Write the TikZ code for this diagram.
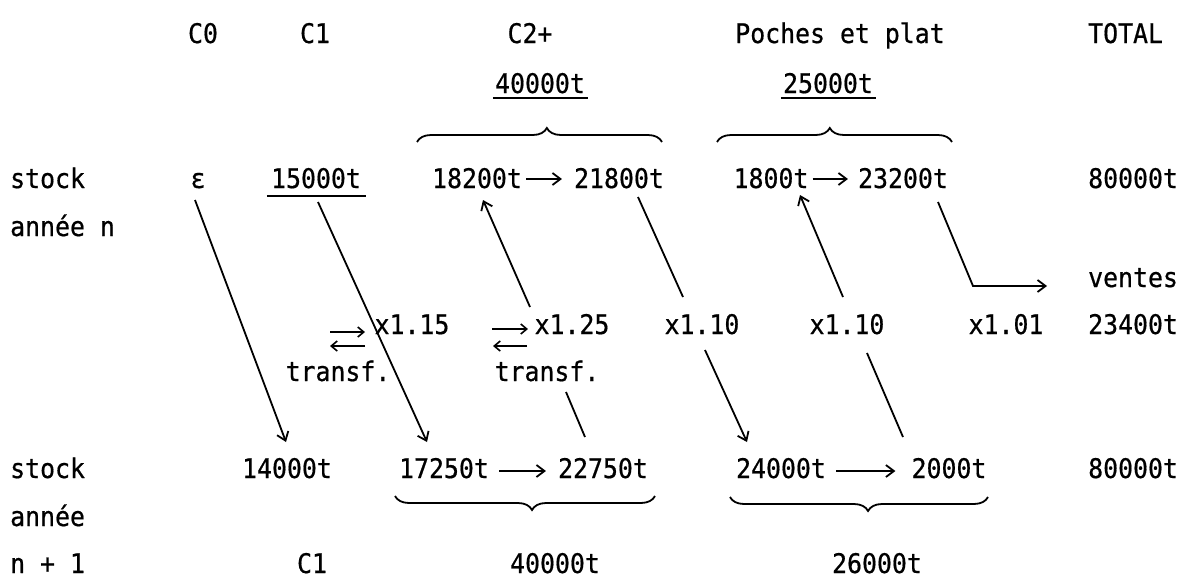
\documentclass[tikz,border=0pt]{standalone}
\usepackage{fontspec}
\newfontfamily\tw[FakeStretch=0.92,FakeBold=0.6]{DejaVu Sans Mono}
\usetikzlibrary{arrows.meta,decorations.pathreplacing,calc}
\begin{document}
\begin{tikzpicture}[x=1pt,y=-1pt,
  lbl/.style={font=\tw\fontsize{27}{32}\selectfont, inner sep=0pt, anchor=base},
  lblw/.style={lbl, anchor=base west},
  conn/.style={line width=1.8pt},
  arr/.style={conn, -{Straight Barb[length=8pt,width=12pt,line width=1.8pt]}},
  sarr/.style={conn, line width=1.6pt, -{Straight Barb[length=6pt,width=10pt,line width=1.6pt]}},
  brc/.style={decorate, line width=1.8pt},
  uline/.style={line width=1.8pt}]
\useasboundingbox[fill=white] (0,0) rectangle (1187,581);

% row labels
\node[lblw] (stock1) at (10,188) {stock};
\node[lblw] (annee1) at (10,236) {année n};
\node[lblw] (stock2) at (10,478) {stock};
\node[lblw] (annee2) at (10,526) {année};
\node[lblw] (np1) at (10,573) {n + 1};

% header
\node[lbl] (hC0) at (203,43) {C0};
\node[lbl] (hC1) at (315,43) {C1};
\node[lbl] (hC2) at (530,43) {C2+};
\node[lbl] (hPP) at (840,43) {Poches et plat};
\node[lblw] (hTot) at (1088,43) {TOTAL};
\node[lbl] (t40) at (540,93) {40000t};
\node[lbl] (t25) at (828,93) {25000t};

% row n
\node[lbl] (eps) at (198,188) {ε};
\node[lbl] (n15000) at (316,188) {15000t};
\node[lbl] (n18200) at (477,188) {18200t};
\node[lbl] (n21800) at (619,188) {21800t};
\node[lbl] (n1800) at (771,188) {1800t};
\node[lbl] (n23200) at (903,188) {23200t};
\node[lblw] (tot1) at (1088,188) {80000t};

% middle
\node[lblw] (ventes) at (1088,287) {ventes};
\node[lbl] (x115) at (412,334) {x1.15};
\node[lbl] (x125) at (572,334) {x1.25};
\node[lbl] (x110a) at (702,334) {x1.10};
\node[lbl] (x110b) at (847,334) {x1.10};
\node[lbl] (x101) at (1006,334) {x1.01};
\node[lblw] (v23400) at (1088,334) {23400t};
\node[lbl] (tf1) at (338,381) {transf.};
\node[lbl] (tf2) at (547,381) {transf.};

% row n+1
\node[lbl] (n14000) at (287,478) {14000t};
\node[lbl] (n17250) at (444,478) {17250t};
\node[lbl] (n22750) at (603,478) {22750t};
\node[lbl] (n24000) at (781,478) {24000t};
\node[lbl] (n2000) at (949,478) {2000t};
\node[lblw] (tot2) at (1088,478) {80000t};
\node[lbl] (bC1) at (312,573) {C1};
\node[lbl] (b40) at (555,573) {40000t};
\node[lbl] (b26) at (877,573) {26000t};

% underlines
\draw[uline] ($(t40.base west)+(-2,5)$) -- ($(t40.base east)+(3,5)$);
\draw[uline] ($(t25.base west)+(-2,5)$) -- ($(t25.base east)+(3,5)$);
\draw[uline] ($(n15000.base west)+(-4,8)$) -- ($(n15000.base east)+(5,8)$);

% braces
\draw[brc, decoration={brace,amplitude=14pt,aspect=0.53}] (417,142) -- (662,142);
\draw[brc, decoration={brace,amplitude=14pt,aspect=0.48}] (717,142) -- (952,142);
\draw[brc, decoration={brace,mirror,amplitude=14pt,aspect=0.527}] (395,496) -- (655,496);
\draw[brc, decoration={brace,mirror,amplitude=14pt,aspect=0.535}] (730,497) -- (988,497);

% arrows within rows
\draw[arr] ($(n18200.base east)+(4,-9)$) -- ($(n21800.base west)+(-12,-9)$);
\draw[arr] ($(n1800.base east)+(4,-9)$) -- ($(n23200.base west)+(-10,-9)$);
\draw[arr] ($(n17250.base east)+(10,-7)$) -- ($(n22750.base west)+(-12,-7)$);
\draw[arr] ($(n24000.base east)+(10,-7)$) -- ($(n2000.base west)+(-16,-7)$);

% transfer arrows
\draw[sarr] ($(tf1.base)+(-8,-49)$) -- ($(tf1.base)+(27,-49)$);
\draw[sarr] ($(tf1.base)+(27,-35)$) -- ($(tf1.base)+(-8,-35)$);
\draw[sarr] ($(tf2.base)+(-55,-52)$) -- ($(tf2.base)+(-19,-52)$);
\draw[sarr] ($(tf2.base)+(-20,-35)$) -- ($(tf2.base)+(-54,-35)$);

% diagonal connectors
\draw[arr] ($(eps.base)+(-3,12)$) -- ($(n14000.base)+(-1,-36)$);
\draw[arr] ($(n15000.base)+(2,14)$) -- ($(n17250.base)+(-17,-36)$);
\draw[conn] ($(n22750.base)+(-18,-41)$) -- ($(tf2.base)+(19,11)$);
\draw[arr] ($(x125.base)+(-42,-27)$) -- ($(n18200.base)+(6,12)$);
\draw[conn] ($(n21800.base)+(19,9)$) -- ($(x110a.base)+(-19,-37)$);
\draw[arr] ($(x110a.base)+(3,16)$) -- ($(n24000.base)+(-34,-36)$);
\draw[conn] ($(n2000.base)+(-46,-41)$) -- ($(x110b.base)+(20,19)$);
\draw[arr] ($(x110b.base)+(-4,-37)$) -- ($(n1800.base)+(29,7)$);
\draw[arr] ($(n23200.base)+(35,14)$) -- ($(x101.base)+(-33,-48)$) -- ($(ventes.base west)+(-41,-1)$);
\end{tikzpicture}
\end{document}
